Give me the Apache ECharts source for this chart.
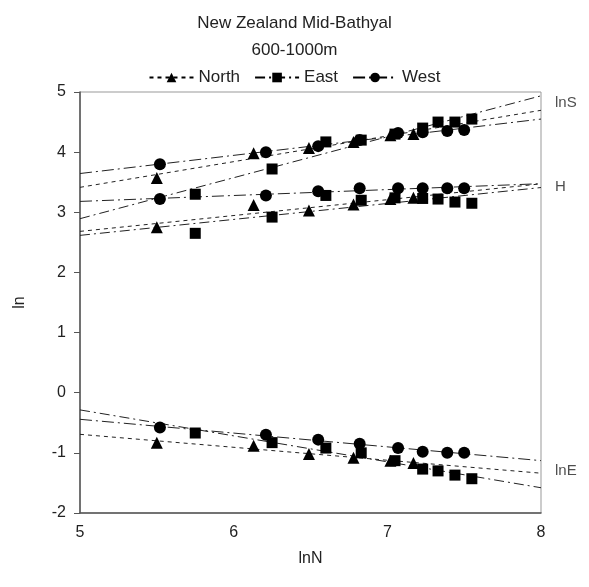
<!DOCTYPE html>
<html><head><meta charset="utf-8">
<script src="https://cdn.jsdelivr.net/npm/echarts@6/dist/echarts.min.js"></script>
<style>html,body{margin:0;padding:0;background:#fff}#c{width:589px;height:587px}</style>
</head><body><div id="c"></div>
<script>
// lnN positions per region
const northX = [5.50, 6.13, 6.49, 6.78, 7.02, 7.17];
const eastX  = [5.75, 6.25, 6.60, 6.83, 7.05, 7.23, 7.33, 7.44, 7.55];
const westX  = [5.52, 6.21, 6.55, 6.82, 7.07, 7.23, 7.39, 7.50];

const northLnS = [3.57, 3.98, 4.07, 4.17, 4.28, 4.30];
const eastLnS  = [3.30, 3.72, 4.17, 4.20, 4.30, 4.40, 4.50, 4.50, 4.55];
const westLnS  = [3.80, 4.00, 4.10, 4.20, 4.32, 4.33, 4.35, 4.37];

const northH = [2.75, 3.12, 3.03, 3.13, 3.22, 3.24];
const eastH  = [2.65, 2.92, 3.28, 3.20, 3.24, 3.23, 3.22, 3.17, 3.15];
const westH  = [3.22, 3.28, 3.35, 3.40, 3.40, 3.40, 3.40, 3.40];

const northLnE = [-0.83, -0.88, -1.02, -1.08, -1.13, -1.17];
const eastLnE  = [-0.67, -0.83, -0.92, -1.00, -1.13, -1.27, -1.30, -1.37, -1.43];
const westLnE  = [-0.58, -0.70, -0.78, -0.85, -0.92, -0.98, -1.00, -1.00];

const xTicks = [5, 6, 7, 8];
const yTicks = [-2, -1, 0, 1, 2, 3, 4, 5];
const regionLabels = [["lnS", 4.82], ["H", 3.42], ["lnE", -1.3]];

const styles = {
  North: {symbol: 'triangle', size: 12, dash: [4, 4]},
  East:  {symbol: 'rect', size: 11, dash: [10, 4, 2, 4]},
  West:  {symbol: 'circle', size: 12, dash: [12, 4, 2, 4]}
};

function fit(xs, ys) {
  const n = xs.length;
  const mx = xs.reduce((a, b) => a + b, 0) / n;
  const my = ys.reduce((a, b) => a + b, 0) / n;
  let sxy = 0, sxx = 0;
  for (let i = 0; i < n; i++) { sxy += (xs[i] - mx) * (ys[i] - my); sxx += (xs[i] - mx) ** 2; }
  const b = sxy / sxx, a = my - b * mx;
  return [[5, a + 5 * b], [8, a + 8 * b]];
}
function zip(xs, ys) { return xs.map((x, i) => [x, ys[i]]); }

const groups = [
  ['North', northX, [northLnS, northH, northLnE]],
  ['East', eastX, [eastLnS, eastH, eastLnE]],
  ['West', westX, [westLnS, westH, westLnE]]
];

const series = [];
groups.forEach(([name, xs, sets]) => {
  const st = styles[name];
  // legend proxy
  series.push({name: name, type: 'line', data: [], symbol: st.symbol, symbolSize: 10,
    itemStyle: {color: '#000', opacity: 1}, lineStyle: {color: '#000', width: 1.2, type: st.dash}});
  sets.forEach((ys, k) => {
    series.push({name: name + '_fit' + k, type: 'line', data: fit(xs, ys), showSymbol: false,
      symbol: 'none', silent: true, lineStyle: {color: '#222', width: 1, type: st.dash}, z: 1});
    series.push({name: name + '_pts' + k, type: 'scatter', data: zip(xs, ys), symbol: st.symbol,
      symbolSize: st.size, itemStyle: {color: '#000', opacity: 1}, z: 3});
  });
});

const chart = echarts.init(document.getElementById('c'));
chart.setOption({
  animation: false,
  backgroundColor: '#fff',
  textStyle: {fontFamily: 'Liberation Sans, Arial, sans-serif'},
  title: [
    {text: 'New Zealand Mid-Bathyal', left: 'center', top: 10,
     textStyle: {fontSize: 17, fontWeight: 'normal', color: '#222'}},
    {text: '600-1000m', left: 'center', top: 37,
     textStyle: {fontSize: 17, fontWeight: 'normal', color: '#222'}}
  ],
  legend: {
    data: ['North', 'East', 'West'], top: 64, left: 'center', itemWidth: 44, itemHeight: 12,
    itemGap: 14, textStyle: {fontSize: 17, color: '#222'}
  },
  grid: {left: 80, right: 48, top: 92, bottom: 74, show: true, borderColor: '#999', borderWidth: 1},
  xAxis: {
    type: 'value', min: xTicks[0], max: xTicks[xTicks.length - 1], interval: 1,
    name: 'lnN', nameLocation: 'middle', nameGap: 38,
    nameTextStyle: {fontSize: 16, color: '#222'},
    axisLine: {onZero: false, lineStyle: {color: '#555', width: 1.5}},
    axisTick: {show: false},
    axisLabel: {fontSize: 16, color: '#222', margin: 12},
    splitLine: {show: false}
  },
  yAxis: {
    type: 'value', min: yTicks[0], max: yTicks[yTicks.length - 1], interval: 1,
    name: 'ln', nameLocation: 'middle', nameGap: 52,
    nameTextStyle: {fontSize: 16, color: '#222'},
    axisLine: {show: true, onZero: false, lineStyle: {color: '#555', width: 1.5}},
    axisTick: {show: true, inside: false, length: 6, lineStyle: {color: '#555'}},
    axisLabel: {fontSize: 16, color: '#222', margin: 14},
    splitLine: {show: false}
  },
  series: series.concat([{
    type: 'scatter', name: 'labels', silent: true, symbolSize: 0,
    data: regionLabels.map(r => ({value: [8, r[1]], label: {show: true, formatter: r[0]}})),
    label: {position: 'right', distance: 14, fontSize: 15, color: '#222'}
  }])
});
</script></body></html>
